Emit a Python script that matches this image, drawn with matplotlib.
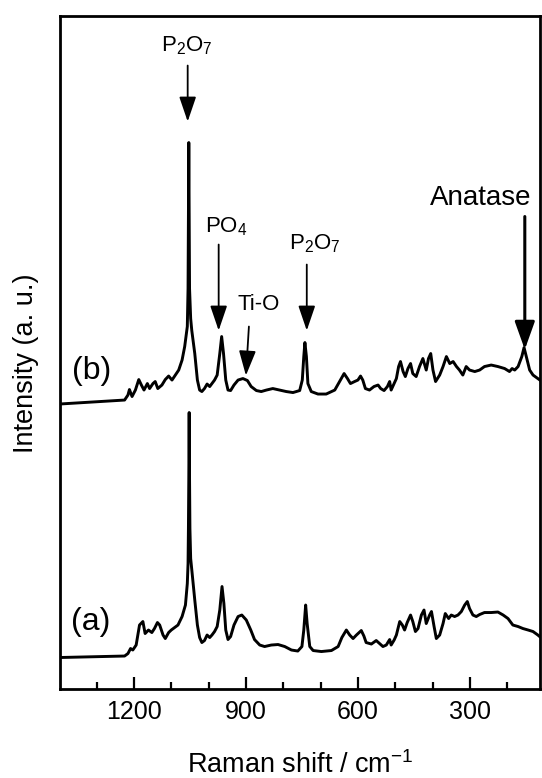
import matplotlib
matplotlib.use("Agg")
import matplotlib.pyplot as plt
from matplotlib.ticker import MultipleLocator

plt.rcParams['font.family'] = ['Liberation Sans', 'DejaVu Sans']
plt.rcParams['mathtext.fontset'] = 'custom'
plt.rcParams['mathtext.rm'] = 'Liberation Sans'

# spectrum (a)
wn_a = [1400, 1225, 1216, 1209, 1203, 1194, 1185, 1176, 1170, 1161, 1152, 1145, 1137,
        1131, 1122, 1116, 1107, 1100, 1091, 1082, 1071, 1062, 1057, 1055, 1054, 1053,
        1052, 1051, 1050, 1048, 1044, 1037, 1030, 1024, 1018, 1011, 1004, 997, 991,
        984, 977, 970, 964, 959, 954, 948, 941, 932, 921, 911, 899, 887, 877, 863,
        850, 832, 814, 796, 778, 761, 750, 745, 740, 736, 729, 720, 698, 671, 653,
        643, 631, 622, 613, 604, 591, 584, 578, 564, 551, 542, 533, 524, 515, 511,
        503, 497, 488, 481, 475, 468, 459, 453, 446, 439, 430, 423, 417, 408, 403,
        396, 390, 381, 372, 366, 357, 350, 341, 332, 323, 314, 307, 301, 292, 283,
        274, 261, 243, 225, 211, 198, 185, 171, 158, 144, 131, 118, 107]
int_a = [31, 32.5, 35, 40, 38.5, 43.5, 63.5, 67, 55, 58.5, 56, 60, 66,
         63.5, 53.5, 50, 56, 58.5, 61, 63.5, 72, 83.5, 105, 125, 160, 210,
         276, 210, 160, 130, 115, 88.5, 63.5, 51, 46, 48, 53.5, 51, 53.5,
         57, 62, 78.5, 102, 85, 58.5, 49, 52, 63.5, 72, 73.5, 68.5, 58.5, 49, 43.5,
         42, 43.5, 44, 42, 38.5, 37.5, 42, 58.5, 83.5, 65, 42, 38, 37, 38, 42,
         51, 58.5, 53.5, 50, 53.5, 58, 52.5, 46, 44.5, 48, 45, 42, 43.5, 49, 43.5,
         48.5, 53.5, 67, 63.5, 58.5, 66, 73.5, 67, 57, 60, 73.5, 78.5, 65, 73.5, 77,
         62, 50, 53.5, 65, 75, 70, 73.5, 72, 73.5, 77, 83.5, 87, 80, 73.5, 72,
         74, 76, 76, 76.5, 73.5, 70, 63.5, 62, 60, 58.5, 57, 53.5, 50]

# spectrum (b)
wn_b = [1400, 1225, 1216, 1212, 1205, 1196, 1187, 1180, 1173, 1164, 1158, 1149, 1143,
        1136, 1125, 1116, 1107, 1098, 1089, 1080, 1071, 1064, 1057, 1055, 1054, 1053,
        1052, 1051, 1048, 1045, 1037, 1030, 1024, 1018, 1011, 1004, 997, 991, 984,
        977, 970, 965, 960, 954, 948, 941, 932, 921, 908, 896, 886, 872, 859, 845,
        828, 810, 792, 774, 756, 749, 745, 742, 738, 734, 725, 707, 685, 662, 649,
        637, 628, 620, 609, 600, 593, 587, 580, 569, 557, 546, 539, 530, 521, 515,
        511, 503, 497, 491, 486, 479, 473, 466, 459, 453, 444, 435, 426, 417, 411,
        405, 399, 392, 381, 372, 363, 354, 345, 336, 328, 319, 310, 301, 287, 274,
        261, 243, 225, 207, 194, 187, 180, 171, 161, 155, 149, 140, 131, 118, 107]
int_b = [284.5, 288.5, 293.5, 299, 292, 298.5, 309, 303.5, 298.5, 305, 300, 305, 307,
         300, 303.5, 309, 312.5, 308.5, 313.5, 318.5, 328.5, 342, 362, 400, 470, 546,
         470, 400, 370, 358, 335, 308.5, 298.5, 297, 300, 304.5, 302, 305, 308.5,
         313.5, 335, 352, 335, 308.5, 298.5, 298, 303.5, 308.5, 310, 308, 302, 298, 297, 298.5,
         300, 298.5, 297, 296, 298, 308.5, 332, 346, 332, 305, 297, 294.5, 294.5, 298.5, 307,
         315, 310, 305, 307, 308.5, 312.5, 308.5, 300, 298.5, 302, 303.5, 300, 298, 302, 307,
         298.5, 305, 310, 322, 327, 317, 312, 320, 325, 315, 312, 322, 330, 318.5, 330,
         335, 318.5, 307, 313.5, 322, 332, 325, 327, 322, 318.5, 313.5, 322, 318.5, 317, 318.5,
         322, 323.5, 322, 320, 317, 320, 318.5, 322, 332, 341, 332, 318.5, 313.5, 310, 307]

# peak labels: text, text position, arrow start, arrow tip
labels = [r'P$_2$O$_7$', r'PO$_4$', 'Ti-O', r'P$_2$O$_7$', 'Anatase']
label_xy = [(1059, 643), (953, 462), (865, 384), (716, 445), (272, 491)]
arrow_from = [(1056, 623), (973, 444), (892, 362), (737, 424), (153, 472)]
arrow_to = [(1056, 567), (973, 358), (900, 313), (737, 358), (153, 339)]
label_size = [16, 16, 16, 16, 20]

fig = plt.figure(figsize=(5.42, 7.78), dpi=100)
ax = fig.add_axes([0.1107, 0.115, 0.8865, 0.865])

ax.plot(wn_a, int_a, color='black', lw=2.1)
ax.plot(wn_b, int_b, color='black', lw=2.1)

for txt, xy, p0, p1, fs in zip(labels, label_xy, arrow_from, arrow_to, label_size):
    ax.text(xy[0], xy[1], txt, fontsize=fs, ha='center', va='center')
    if txt == 'Anatase':
        style = '-|>,head_length=0.95,head_width=0.34'
        thick = 2.2
    else:
        style = '-|>,head_length=0.85,head_width=0.29'
        thick = 1.3
    ax.annotate('', xy=p1, xytext=p0,
                arrowprops=dict(arrowstyle=style, mutation_scale=18,
                                color='black', lw=thick,
                                shrinkA=0, shrinkB=0))

ax.text(1314, 318, '(b)', fontsize=23, ha='center', va='center')
ax.text(1316, 67, '(a)', fontsize=23, ha='center', va='center')

ax.set_xlim(1398, 111)
ax.set_ylim(0, 673)
ax.xaxis.set_major_locator(MultipleLocator(300))
ax.xaxis.set_minor_locator(MultipleLocator(100))
ax.tick_params(axis='x', which='both', direction='in', top=False, labelsize=18, pad=8)
ax.tick_params(axis='x', which='major', length=9, width=1.6)
ax.tick_params(axis='x', which='minor', length=5, width=1.6)
ax.set_yticks([])
for s in ax.spines.values():
    s.set_linewidth(2.0)

ax.set_xlabel(r'Raman shift / cm$^{-1}$', fontsize=19.5, labelpad=20)
ax.set_ylabel('Intensity (a. u.)', fontsize=19.5)
ax.yaxis.set_label_coords(-0.044, 0.484)

fig.savefig('out.png', dpi=100)
